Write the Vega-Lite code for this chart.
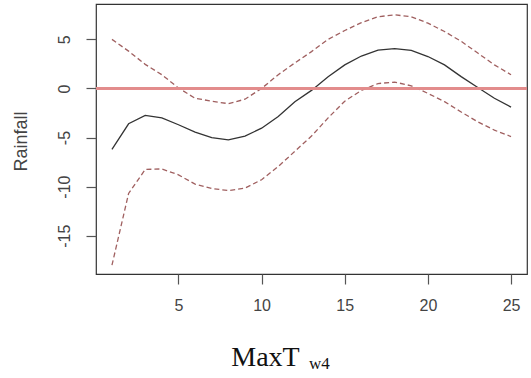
{
  "$schema": "https://vega.github.io/schema/vega-lite/v6.json",
  "width": 431,
  "height": 270,
  "autosize": {"type": "none"},
  "padding": {"left": 96, "top": 4, "right": 4, "bottom": 104},
  "background": "white",
  "title": {
    "text": "w4",
    "orient": "top",
    "frame": "group",
    "anchor": "start",
    "align": "left",
    "baseline": "alphabetic",
    "offset": 0,
    "dx": 213,
    "dy": 382,
    "font": "Liberation Serif",
    "fontSize": 17,
    "fontWeight": "normal",
    "color": "#111"
  },
  "config": {
    "view": {"stroke": "#333", "strokeWidth": 1.2},
    "axis": {
      "domain": false,
      "grid": false,
      "tickColor": "#555",
      "tickSize": 10,
      "tickWidth": 1.2,
      "labelColor": "#444",
      "labelFont": "Liberation Sans",
      "labelFontSize": 16,
      "labelExpr": "datum.value + ''",
      "titleFontWeight": "normal"
    }
  },
  "data": {
    "values": [
      {"x": 1, "fit": -6.2, "upper": 5.0, "lower": -18.0},
      {"x": 2, "fit": -3.6, "upper": 3.8, "lower": -10.7},
      {"x": 3, "fit": -2.75, "upper": 2.45, "lower": -8.25},
      {"x": 4, "fit": -3.0, "upper": 1.4, "lower": -8.2},
      {"x": 5, "fit": -3.7, "upper": 0.05, "lower": -8.8},
      {"x": 6, "fit": -4.45, "upper": -1.0, "lower": -9.75},
      {"x": 7, "fit": -5.0, "upper": -1.3, "lower": -10.2},
      {"x": 8, "fit": -5.23, "upper": -1.55, "lower": -10.4},
      {"x": 9, "fit": -4.85, "upper": -1.1, "lower": -10.15},
      {"x": 10, "fit": -4.05, "upper": 0.0, "lower": -9.3},
      {"x": 11, "fit": -2.85, "upper": 1.4, "lower": -7.95},
      {"x": 12, "fit": -1.35, "upper": 2.6, "lower": -6.4},
      {"x": 13, "fit": -0.2, "upper": 3.75, "lower": -4.85},
      {"x": 14, "fit": 1.2, "upper": 5.0, "lower": -3.0},
      {"x": 15, "fit": 2.4, "upper": 5.9, "lower": -1.3},
      {"x": 16, "fit": 3.3, "upper": 6.7, "lower": -0.2},
      {"x": 17, "fit": 3.9, "upper": 7.3, "lower": 0.5},
      {"x": 18, "fit": 4.05, "upper": 7.5, "lower": 0.65},
      {"x": 19, "fit": 3.88, "upper": 7.3, "lower": 0.27},
      {"x": 20, "fit": 3.25, "upper": 6.65, "lower": -0.5},
      {"x": 21, "fit": 2.4, "upper": 5.8, "lower": -1.35},
      {"x": 22, "fit": 1.2, "upper": 4.8, "lower": -2.4},
      {"x": 23, "fit": 0.1, "upper": 3.6, "lower": -3.4},
      {"x": 24, "fit": -1.0, "upper": 2.4, "lower": -4.25},
      {"x": 25, "fit": -1.9, "upper": 1.4, "lower": -4.9}
    ]
  },
  "layer": [
    {
      "mark": {"type": "line", "color": "#a06060", "strokeWidth": 1.3, "strokeDash": [5, 3]},
      "encoding": {
        "x": {
          "field": "x",
          "type": "quantitative",
          "scale": {"domain": [0.04, 25.96], "nice": false, "zero": false},
          "axis": {
            "values": [5, 10, 15, 20, 25],
            "labelPadding": 13,
            "title": "MaxT",
            "titleFont": "Liberation Serif",
            "titleFontSize": 28,
            "titleColor": "#111",
            "titleX": 169,
            "titleY": 91,
            "titleAlign": "center",
            "titleBaseline": "alphabetic"
          }
        },
        "y": {
          "field": "upper",
          "type": "quantitative",
          "scale": {"domain": [-18.9, 8.6], "nice": false, "zero": false},
          "axis": {
            "values": [-15, -10, -5, 0, 5],
            "labelAngle": -90,
            "labelAlign": "center",
            "labelBaseline": "alphabetic",
            "labelPadding": 17,
            "title": "Rainfall",
            "titleFont": "Liberation Sans",
            "titleFontSize": 18,
            "titleColor": "#444",
            "titleAngle": -90,
            "titleAlign": "center",
            "titleBaseline": "alphabetic",
            "titleX": -70,
            "titleY": 137
          }
        }
      }
    },
    {
      "mark": {"type": "line", "color": "#a06060", "strokeWidth": 1.3, "strokeDash": [5, 3]},
      "encoding": {
        "x": {"field": "x", "type": "quantitative"},
        "y": {"field": "lower", "type": "quantitative"}
      }
    },
    {
      "mark": {"type": "line", "color": "#333333", "strokeWidth": 1.3},
      "encoding": {
        "x": {"field": "x", "type": "quantitative"},
        "y": {"field": "fit", "type": "quantitative"}
      }
    },
    {
      "mark": {"type": "rule", "color": "#e28c8c", "strokeWidth": 1.8},
      "encoding": {"y": {"datum": 0}}
    }
  ]
}
